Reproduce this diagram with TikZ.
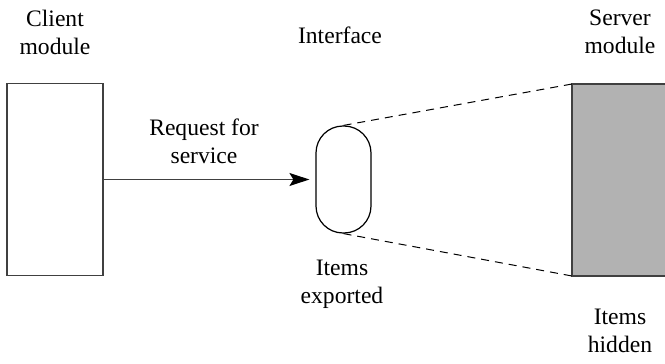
\documentclass[tikz,border=0pt]{standalone}
\usepackage{fontspec}
\setmainfont{Liberation Serif}
\usetikzlibrary{arrows.meta,positioning}

\begin{document}
\begin{tikzpicture}[
  x=0.5pt, y=-0.5pt,
  every node/.style={font=\fontsize{11.8}{14}\selectfont, align=center},
  modbox/.style={draw=black!75, line width=0.6pt, minimum width=48pt, minimum height=96pt, inner sep=0pt},
  iface/.style={draw, line width=0.6pt, rounded corners=13.5pt, minimum width=27.5pt, minimum height=53.5pt, inner sep=0pt},
  link/.style={line width=0.5pt, dash pattern=on 4pt off 3pt},
  req/.style={draw=black!75, line width=0.6pt, -{Stealth[length=10pt,width=6.5pt,inset=2pt,black]}, shorten >=3pt}
]

\clip (0,0) rectangle (665,364);

% Modules and interface
\node[modbox] (client) at (55,179.5) {};
\node[iface] (face) at (343.5,179.5) {};
\node[modbox, fill=black!30, minimum width=60pt] (server) at (632,180) {};
\coordinate (srvtop) at (572,84);
\coordinate (srvbot) at (572,276);

% Request and hidden items
\draw[req] (client.east |- face.west) -- (face.west);
\draw[link] (face.north) -- (srvtop);
\draw[link] (face.south) -- (srvbot);

% Labels
\node (clientlbl) at (55,32) {Client\\module};
\node (facelbl) at (340,35) {Interface};
\node (serverlbl) at (620,32) {Server\\module};
\node (reqlbl) at (204,141) {Request for\\service};
\node (exported) at (342,284) {Items\\exported};
\node (hidden) at (620,331) {Items\\hidden};
\end{tikzpicture}
\end{document}
